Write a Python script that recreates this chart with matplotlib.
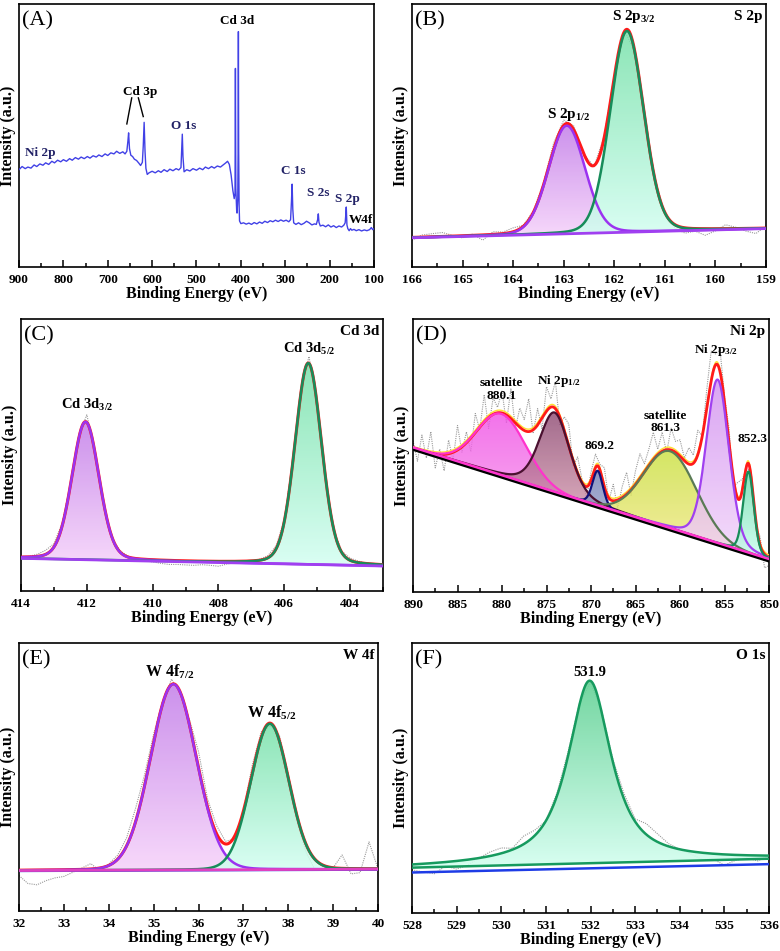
import numpy as np
import matplotlib
matplotlib.use("Agg")
import matplotlib.pyplot as plt
from matplotlib.ticker import MultipleLocator
from matplotlib.colors import LinearSegmentedColormap
from matplotlib.patches import Polygon

plt.rcParams['font.family'] = ['Liberation Serif', 'DejaVu Serif']
plt.rcParams['font.weight'] = 'bold'
plt.rcParams['mathtext.fontset'] = 'custom'
plt.rcParams['mathtext.rm'] = 'Liberation Serif:bold'
plt.rcParams['mathtext.bf'] = 'Liberation Serif:bold'
plt.rcParams['mathtext.it'] = 'Liberation Serif:bold'

# ---------------- DATA ----------------
# (A) survey spectrum: binding energy (eV) and intensity (a.u., 0-100 axis units)
A_be = [900, 893, 886, 880, 873, 866, 860, 853, 846, 840, 833, 826, 820, 813, 806, 800, 793, 786, 780, 773,
        766, 760, 753, 746, 740, 733, 726, 720, 713, 706, 700, 693, 686, 680, 673, 666, 661, 657, 654.5, 653,
        651, 648, 644, 640, 635, 630, 626, 622, 620, 618, 616, 614, 611, 607, 600, 593, 586, 580, 573, 566,
        560, 553, 546, 540, 535, 533.5, 532, 530.5, 528, 522, 515, 508, 500, 493, 486, 480, 473, 466, 460, 453,
        446, 440, 434, 430, 426, 422, 418, 415, 413.2, 412.3, 411.4, 409.5, 408.6, 407, 406.2, 405.6, 405, 404, 403, 400,
        394, 388, 382, 376, 370, 364, 358, 352, 346, 340, 334, 328, 322, 316, 310, 304, 298, 292, 288, 286,
        284.5, 283, 281, 276, 270, 264, 258, 252, 246, 240, 234, 230, 227, 225.5, 224, 221, 215, 209, 203, 197,
        191, 185, 179, 173, 168, 165, 163.5, 162.5, 161, 159, 156, 153, 150, 145, 140, 134, 128, 122, 116, 110,
        106, 103, 100]
A_int = [37.0, 38.2, 37.4, 38.0, 37.6, 38.8, 38.2, 39.2, 38.7, 39.6, 39.0, 40.2, 39.6, 40.6, 40.0, 40.8, 40.2, 41.2, 40.6, 41.6,
         41.0, 41.8, 41.2, 42.0, 41.4, 42.3, 41.8, 42.6, 42.0, 43.0, 42.4, 43.4, 43.0, 44.0, 43.2, 43.8, 43.0, 44.0, 48.0, 51.0,
         45.0, 42.5, 42.0, 41.0, 40.5, 39.5, 38.6, 39.8, 46.0, 55.0, 44.0, 37.5, 35.2, 35.8, 36.4, 35.8, 36.6, 36.0, 37.0, 36.3,
         37.2, 36.6, 37.4, 36.9, 37.8, 44.0, 50.5, 42.0, 36.2, 37.0, 36.5, 37.4, 36.8, 37.6, 37.0, 38.0, 37.4, 38.2, 37.6, 38.4,
         38.0, 38.8, 39.6, 40.2, 39.0, 35.0, 29.0, 26.0, 28.0, 75.5, 30.0, 21.5, 20.5, 26.0, 45.0, 89.5, 45.0, 24.0, 17.5, 16.5,
         16.8, 16.3, 16.7, 16.2, 16.9, 16.4, 17.1, 16.6, 17.4, 16.9, 17.6, 17.2, 17.8, 17.3, 17.9, 17.4, 17.8, 17.2, 18.0, 25.0,
         31.5, 22.0, 16.8, 16.2, 16.8, 16.1, 16.6, 17.4, 16.8, 16.0, 16.4, 16.2, 18.0, 20.2, 17.0, 15.6, 15.9, 15.3, 16.0, 15.2,
         15.7, 15.0, 15.6, 15.2, 15.9, 16.8, 20.0, 22.8, 16.0, 14.6, 13.8, 14.6, 14.0, 14.3, 13.8, 14.2, 13.7, 14.1, 13.8, 14.2,
         15.0, 14.2, 14.6]
A_labels = ["Cd 3d", "Cd 3p", "O 1s", "Ni 2p", "C 1s", "S 2s", "S 2p", "W4f"]
A_label_be = [409, 627, 528, 853, 282, 225, 160, 129]
A_label_y = [93.4, 66.7, 53.6, 43.2, 36.6, 28.2, 25.7, 17.8]

# (B) S 2p fit: centres (eV), heights, FWHM, Lorentz fraction; linear background at 166 / 159 eV
B_names = [r"S 2p$_{\mathbf{1/2}}$", r"S 2p$_{\mathbf{3/2}}$"]
B_center = [162.94, 161.75]
B_height = [41.1, 76.5]
B_fwhm = [0.85, 0.78]
B_eta = [0.1, 0.1]
B_bg = [11.1, 14.6]
B_resid = [-1.0, 0.8, 1.2, 1.5, 0.3, -0.8, 0.5, -2.0, 1.0, 0.6, 1.5, 0.4, 0.5, 1.0, 2.5, 2.0, 1.5, 0.0,
           -0.5, 0.5, 0.8, 0.3, -0.5, 0.0, 0.2, -0.5, -1.5, -2.0, -1.0, -2.5, -0.8, 1.5, 0.5, -1.0, -2.0, 0.8]
B_label_x = [162.9, 161.62]
B_label_y = [57.8, 95.3]

# (C) Cd 3d
C_names = [r"Cd 3d$_{\mathbf{3/2}}$", r"Cd 3d$_{\mathbf{5/2}}$"]
C_center = [412.04, 405.27]
C_height = [50.7, 74.0]
C_fwhm = [0.97, 0.95]
C_eta = [0.15, 0.15]
C_bg = [12.0, 9.2]
C_resid = [0.3, 0.2, 0.8, 1.5, 1.2, 1.0, 0.5, 1.0, 2.8, 0.5, -0.5, -0.5, 0.5, 0.3, -0.2, -0.5, -0.8, -1.2,
           -1.5, -1.4, -1.5, -1.6, -1.3, -1.5, -1.8, -1.0, -0.6, -0.3, 0.0, 0.3, 0.8, 1.0, 0.5, 0.8, 1.5,
           2.5, 1.0, 0.0, -0.5, 0.5, 0.8, 0.5, 0.2, 0.0, 0.0]
C_label_x = [412.0, 405.24]
C_label_y = [68.5, 89.0]

# (D) Ni 2p
D_center = [880.07, 874.1, 869.25, 861.1, 855.77, 852.3]
D_height = [22.6, 29.2, 12.8, 28.3, 60.0, 29.9]
D_fwhm = [6.5, 4.0, 1.4, 7.0, 3.0, 1.4]
D_eta = [0.0, 0.3, 0.2, 0.0, 0.2, 0.2]
D_bg = [52.2, 11.3]
D_resid = [3, -4, 6, -2, 8, -5, 2, -6, 5, -3, 9, -2, 4, -5, 7, -1, 10, -4, 6, 2, 8,
           -3, 11, -2, 7, 4, 12, -1, 6, -4, 9, 3, 10, -3, 5, 8, -2, 6, 1, -4, 3,
           5, 2, 7, -1, 6, -3, 4, 8, -2, 5, 9, 3, 6, 10, 2, 7, -1, 8, 4, 6,
           1, 6, 3, 9, 0, 7, 11, 4, 8, 2, 5, -3, 6, 4, -1, 2, -2, 3, -5, -3]
D_labels = ["satellite\n880.1", r"Ni 2p$_{\mathbf{1/2}}$", "869.2", "satellite\n861.3",
            r"Ni 2p$_{\mathbf{3/2}}$", "852.3"]
D_label_x = [880.1, 873.6, 869.0, 861.6, 856.0, 851.9]
D_label_y = [74.2, 77.2, 53.4, 62.3, 88.8, 55.9]

# (E) W 4f
E_names = [r"W 4f$_{\mathbf{7/2}}$", r"W 4f$_{\mathbf{5/2}}$"]
E_center = [35.44, 37.59]
E_height = [69.3, 54.4]
E_fwhm = [1.2, 1.0]
E_eta = [0.05, 0.05]
E_bg = [15.1, 15.6]
E_resid = [-2, -5, -5.5, -4, -3, -2.5, -1, 0.5, 2, -1, 0.5, 1.5, 3, 5, 4, 3, 1, 2, -1, 2,
           6, 3, 3, 1, -1, 0, 3, 2, -1, 2, 1.5, -2, -3, -4, -1, 0, 5, -2, -1.5, 10, 0]
E_label_x = [35.35, 37.63]
E_label_y = [89.4, 73.8]

# (F) O 1s
F_center = [531.98]
F_height = [67.6]
F_fwhm = [1.15]
F_eta = [0.85]
F_bg_blue = [15.0, 18.1]
F_bg_green = [16.8, 20.1]
F_resid = [-2, -3, -4, -1.5, -3, -2, 0, 1.5, 2, 0.5, 3, 2, 0, 1, 1.5, 0.5, -0.5, 0.5, 1, 2, 1, 4, 3,
           1, 0, -1, -2.5, -2, -4, -2, -1, -2, 0]


# ---------------- helpers ----------------
def pv(x, c, h, w, eta):
    g = np.exp(-4 * np.log(2) * ((x - c) / w) ** 2)
    l = 1.0 / (1 + 4 * ((x - c) / w) ** 2)
    return h * (eta * l + (1 - eta) * g)


def grad_fill(ax, x, ytop, ybot, ctop, cbot, alpha=0.85, z=2):
    verts = np.concatenate([np.column_stack([x, ytop]), np.column_stack([x[::-1], ybot[::-1]])])
    patch = Polygon(verts, closed=True, facecolor='none', edgecolor='none')
    ax.add_patch(patch)
    cmap = LinearSegmentedColormap.from_list('g', [cbot, ctop])
    grad = np.linspace(0, 1, 256).reshape(-1, 1)
    im = ax.imshow(grad, aspect='auto', cmap=cmap, origin='lower', interpolation='bilinear',
                   extent=[x.min(), x.max(), ybot.min(), ytop.max()], alpha=alpha, zorder=z)
    im.set_clip_path(patch)


def setup(ax, xlim, major, minor, letter, title=None):
    ax.set_xlim(*xlim)
    ax.set_ylim(0, 100)
    ax.set_yticks([])
    ax.xaxis.set_major_locator(MultipleLocator(major))
    ax.xaxis.set_minor_locator(MultipleLocator(minor))
    ax.tick_params(axis='x', which='both', direction='in', top=False)
    ax.tick_params(axis='x', which='major', length=5, width=1.1, labelsize=9.5, pad=5)
    ax.tick_params(axis='x', which='minor', length=3, width=1.1)
    for lab in ax.get_xticklabels():
        lab.set_fontweight('bold')
    ax.set_xlabel('Binding Energy (eV)', fontsize=11.5, fontweight='bold', labelpad=0)
    ax.set_ylabel('Intensity (a.u.)', fontsize=11.5, fontweight='bold', labelpad=2)
    for s in ax.spines.values():
        s.set_linewidth(1.2)
    ax.text(0.008, 0.972, letter, transform=ax.transAxes, ha='left', va='top',
            fontsize=16, fontweight='normal')
    if title:
        ax.text(0.99, 0.978, title, transform=ax.transAxes, ha='right', va='top',
                fontsize=11, fontweight='bold')


W, H = 780, 951
fig = plt.figure(figsize=(W / 100, H / 100), dpi=100)


def axes_px(l, t, r, b):
    return fig.add_axes([l / W, 1 - b / H, (r - l) / W, (b - t) / H])


axA = axes_px(19, 4, 374, 267)
axB = axes_px(412, 4, 766, 267)
axC = axes_px(21, 319, 383, 591)
axD = axes_px(413, 319, 769, 592)
axE = axes_px(19, 643, 378, 911)
axF = axes_px(412, 643, 769, 913)

purple_line = '#9b32f0'
purple_top, purple_bot = '#c37ee9', '#f6d2fa'
green_line = '#178c5a'
green_top, green_bot = '#78e1aa', '#d4fff2'
red = '#ff1a1a'
raw_c = '#9a9a9a'

# ---------------- (A) ----------------
axA.plot(A_be, A_int, color='#4141e6', lw=1.0, zorder=3)
for t, xb, yb in zip(A_labels, A_label_be, A_label_y):
    axA.text(xb, yb, t, ha='center', va='center', fontsize=9.5, fontweight='bold',
             color='black' if t in ("Cd 3d", "Cd 3p", "W4f") else '#222266')
axA.plot([646, 657], [64.3, 54.4], color='black', lw=1.0)
axA.plot([631, 620], [64.3, 57.2], color='black', lw=1.0)
setup(axA, (900, 100), 100, 50, '(A)')


# ---------------- generic doublet panel ----------------
def doublet(ax, xstart, xend, centers, heights, fwhms, etas, bg, resid, cols, lines, names, lx, ly,
            base_color, fs):
    # xstart / xend: energies at the left / right side of the plotted axis; bg given at those ends
    x = np.linspace(xstart, xend, 1500)
    base = bg[0] + (bg[1] - bg[0]) * (x - xstart) / (xend - xstart)
    comps = [pv(x, c, h, w, e) for c, h, w, e in zip(centers, heights, fwhms, etas)]
    env = base + np.sum(comps, axis=0)
    rx = np.linspace(xstart, xend, len(resid))
    order = np.argsort(x)
    ry = np.interp(rx, x[order], env[order]) + np.array(resid)
    ax.plot(rx, ry, color=raw_c, lw=0.8, ls=(0, (1, 1)), zorder=1)
    for comp, (ct, cb) in zip(comps, cols):
        grad_fill(ax, x, base + comp, base, ct, cb)
    ax.plot(x, env, color=red, lw=2.2, zorder=4)
    for comp, lc in zip(comps, lines):
        ax.plot(x, base + comp, color=lc, lw=1.8, zorder=5)
    ax.plot(x, base, color=base_color, lw=2.0, zorder=6)
    for n, a, b in zip(names, lx, ly):
        ax.text(a, b, n, ha='center', va='center', fontsize=fs, fontweight='bold', zorder=7)


# (B)
doublet(axB, 166, 159, B_center, B_height, B_fwhm, B_eta, B_bg,
        B_resid, [(purple_top, purple_bot), (green_top, green_bot)], [purple_line, green_line],
        B_names, B_label_x, B_label_y, '#a040f0', 11)
setup(axB, (166, 159), 1, 0.5, '(B)', 'S 2p')

# (C)
doublet(axC, 414, 403, C_center, C_height, C_fwhm, C_eta, C_bg,
        C_resid, [(purple_top, purple_bot), (green_top, green_bot)], [purple_line, green_line],
        C_names, C_label_x, C_label_y, '#a040f0', 10.5)
setup(axC, (414, 403), 2, 1, '(C)', 'Cd 3d')

# ---------------- (D) ----------------
xD = np.linspace(850, 890, 2000)
baseD = D_bg[0] + (D_bg[1] - D_bg[0]) * (890 - xD) / 40.0
compsD = [pv(xD, c, h, w, e) for c, h, w, e in zip(D_center, D_height, D_fwhm, D_eta)]
envD = baseD + np.sum(compsD, axis=0)
rxD = np.linspace(890, 850, len(D_resid))
ryD = np.interp(rxD, xD, envD) + np.array(D_resid)
axD.plot(rxD, ryD, color=raw_c, lw=0.8, ls=(0, (1, 1)), zorder=1)
D_fill = [('#f050e6', '#fbb4ee'), ('#8c4670', '#f4bcc8'), ('#5f6ea8', '#b9bedf'),
          ('#c8e03c', '#f6e88c'), ('#d290f0', '#f2d4fa'), ('#50d296', '#ccfff0')]
D_line = ['#ff33cc', '#4a1030', '#101078', '#5a7a55', '#a040f0', '#178c5a']
for comp, (ct, cb) in zip(compsD, D_fill):
    grad_fill(axD, xD, baseD + comp + 0.6, baseD + 0.6, ct, cb, alpha=0.8)
axD.plot(xD, envD + 0.9, color='#ffe030', lw=1.0, zorder=4)
axD.plot(xD, envD, color=red, lw=2.0, zorder=4)
for comp, lc in zip(compsD, D_line):
    axD.plot(xD, baseD + comp + 0.6, color=lc, lw=1.6, zorder=5)
axD.plot(xD, baseD, color='black', lw=2.0, zorder=6)
axD.plot(xD, baseD + 0.8, color='#ff33cc', lw=1.8, zorder=6)
for t, a, b in zip(D_labels, D_label_x, D_label_y):
    axD.text(a, b, t, ha='center', va='center', fontsize=9.5, fontweight='bold', linespacing=1.05, zorder=7)
setup(axD, (890, 850), 5, 2.5, '(D)', 'Ni 2p')

# ---------------- (E) ----------------
doublet(axE, 32, 40, E_center, E_height, E_fwhm, E_eta, E_bg,
        E_resid, [(purple_top, purple_bot), (green_top, green_bot)], [purple_line, green_line],
        E_names, E_label_x, E_label_y, '#e040c0', 11.5)
axE.plot([32, 40], [E_bg[0] - 0.3, E_bg[1] - 0.3], color='#3040e0', lw=1.2, zorder=5.5)
setup(axE, (32, 40), 1, 0.5, '(E)', 'W 4f')

# ---------------- (F) ----------------
xF = np.linspace(528, 536, 1500)
bgF_b = F_bg_blue[0] + (F_bg_blue[1] - F_bg_blue[0]) * (xF - 528) / 8.0
bgF_g = F_bg_green[0] + (F_bg_green[1] - F_bg_green[0]) * (xF - 528) / 8.0
compF = pv(xF, F_center[0], F_height[0], F_fwhm[0], F_eta[0])
envF = bgF_g + compF
rxF = np.linspace(528, 536, len(F_resid))
ryF = np.interp(rxF, xF, envF) + np.array(F_resid)
axF.plot(rxF, ryF, color=raw_c, lw=0.8, ls=(0, (1, 1)), zorder=1)
grad_fill(axF, xF, envF, bgF_g, '#64d296', '#d4fff0', alpha=0.9)
axF.plot(xF, envF, color='#169a5e', lw=1.8, zorder=5)
axF.plot(xF, bgF_g, color='#169a5e', lw=1.8, zorder=5)
axF.plot(xF, bgF_b, color='#1e3ce6', lw=1.8, zorder=5)
axF.text(531.98, 89.1, '531.9', ha='center', va='center', fontsize=10.5, fontweight='bold')
setup(axF, (528, 536), 1, 0.5, '(F)', 'O 1s')

fig.savefig('out.png', dpi=100)
